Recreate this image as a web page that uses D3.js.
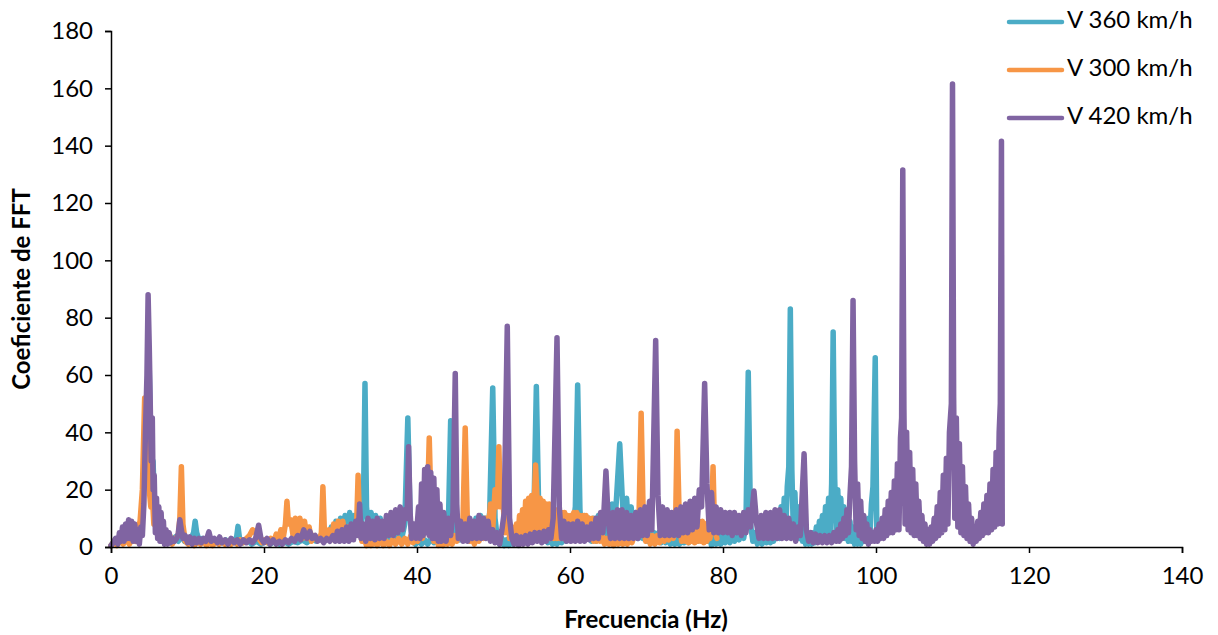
<!DOCTYPE html>
<html>
<head>
<meta charset="utf-8">
<script src="https://cdn.jsdelivr.net/npm/d3@7"></script>
<style>
  html, body { margin: 0; padding: 0; background: #fff; }
  svg { display: block; }
  text { font-family: Lato, "Open Sans", "Liberation Sans", sans-serif; fill: #000; }
</style>
</head>
<body>
<svg id="chart" width="1218" height="635"></svg>
<script>
// Spectrum samples as [frequency (Hz), FFT coefficient]
const v360 = [[0,0.5],[0.4,2],[0.8,1],[1.2,3],[1.6,1.5],[2.0,4],[2.4,2],[2.8,5],[3.2,2.5],[3.6,6],[3.9,8],[4.2,19],[4.5,40],[4.7,54],[4.85,35],[5.0,62],[5.15,40],[5.3,25],[5.5,30],[5.7,12],[5.9,8],[6.2,4],[6.5,6],[6.8,2.5],[7.1,3.5],[7.4,2.5],[7.7,3.5],[8.0,2.5],[8.4,3.5],[8.8,2],[9.2,4],[9.6,2],[10.0,3],[10.4,2.5],[10.8,5],[11.0,9],[11.2,5],[11.5,2.5],[12.0,3],[12.5,2],[13.0,3],[13.5,2],[14.0,2.5],[14.5,1.5],[15.0,2.5],[15.5,1.5],[16.0,2.5],[16.4,3],[16.6,7.2],[16.8,3],[17.2,1.5],[17.8,2.5],[18.4,1],[19.0,2],[19.6,1],[20.2,2],[20.8,1],[21.4,2],[22.0,1],[22.6,2],[23.2,1],[23.8,2],[24.4,1.5],[25.0,2.5],[25.6,1.5],[26.2,3],[26.8,2],[27.4,3.5],[27.8,2.5],[28.2,5],[28.5,3],[28.8,7],[29.1,4],[29.4,9],[29.7,5],[30.0,10],[30.3,5],[30.6,11],[30.9,6],[31.2,12],[31.5,6],[31.8,11],[32.1,6],[32.4,10],[32.7,7],[33.0,14],[33.2,57],[33.4,14],[33.7,6],[34.0,12],[34.3,5],[34.6,11],[34.9,4],[35.2,10],[35.5,3],[35.8,8],[36.1,3],[36.4,7],[36.7,2.5],[37.0,5],[37.3,2],[37.6,4],[38.0,3],[38.4,8],[38.8,45],[39.1,10],[39.4,2],[39.8,1],[40.2,2],[40.6,1],[41.0,2.5],[41.4,1],[41.8,3],[42.2,1.5],[42.6,3],[43.0,1.5],[43.4,4],[43.8,3],[44.1,8],[44.4,44],[44.7,9],[45.0,3],[45.3,6],[45.6,2.5],[45.9,7],[46.2,3],[46.5,8],[46.8,4],[47.1,9],[47.4,4],[47.7,10],[48.0,4],[48.3,11],[48.6,5],[48.9,10],[49.2,5],[49.5,12],[49.9,55.5],[50.2,10],[50.5,3],[50.8,1],[51.1,3],[51.4,0.5],[51.7,2.5],[52.0,0.5],[52.3,3],[52.6,1],[52.9,3],[53.2,1],[53.5,3.5],[53.8,1.5],[54.1,4],[54.4,2],[54.7,6],[55.0,4],[55.3,14],[55.6,56],[55.9,14],[56.2,4],[56.5,2],[56.8,4],[57.1,1.5],[57.4,3.5],[57.7,1],[58.0,3],[58.3,1],[58.6,3],[58.9,1.5],[59.2,4],[59.5,2],[59.8,5],[60.1,3],[60.4,8],[60.7,14],[61.0,56.5],[61.3,13],[61.6,3],[61.9,11],[62.2,3],[62.5,10],[62.8,2],[63.1,10],[63.4,2],[63.7,11],[64.0,3],[64.3,12],[64.6,3],[64.9,13],[65.2,4],[65.5,15],[65.8,5],[66.1,18],[66.5,36],[66.8,19],[67.1,5],[67.4,17],[67.7,4],[68.0,14],[68.3,4],[68.6,12],[68.9,3],[69.2,10],[69.5,3],[69.8,8],[70.1,2],[70.4,7],[70.7,2],[71.0,5],[71.3,2],[71.6,5],[71.9,1.5],[72.2,4],[72.5,1.5],[72.8,4],[73.1,1],[73.4,3.5],[73.7,1],[74.0,3],[74.3,1],[74.6,3],[74.9,1.5],[75.2,3.5],[75.5,1.5],[75.8,4],[76.1,2],[76.4,4],[76.7,2],[77.0,5],[77.3,3],[77.6,6],[77.9,2],[78.2,4],[78.5,0.5],[78.8,4],[79.1,1],[79.4,4.5],[79.7,1],[80.0,5],[80.3,1.5],[80.6,5],[80.9,1.5],[81.2,5],[81.5,2],[81.8,5.5],[82.1,2.5],[82.4,6],[82.7,3],[83.0,8],[83.3,61],[83.6,8],[83.9,2],[84.2,5],[84.5,1],[84.8,4],[85.1,1],[85.4,4],[85.7,1.5],[86.0,4],[86.2,1.5],[86.4,6],[86.6,2],[86.8,8],[87.0,3],[87.2,11],[87.4,3],[87.6,14],[87.8,4],[88.0,17],[88.2,5],[88.4,21],[88.6,28],[88.8,83],[89.0,27],[89.2,5],[89.4,19],[89.6,4],[89.8,14],[90.0,3],[90.2,10],[90.4,2],[90.6,7],[90.8,1],[91.0,5],[91.2,1],[91.4,4],[91.6,1],[91.8,5],[92.0,1.5],[92.2,7],[92.4,2],[92.6,9],[92.8,3],[93.0,11],[93.2,3],[93.4,14],[93.6,4],[93.8,17],[94.0,5],[94.2,22],[94.4,75],[94.6,24],[94.8,5],[95.0,20],[95.2,4],[95.4,17],[95.6,3],[95.8,14],[96.0,3],[96.2,12],[96.4,2],[96.6,9],[96.8,2],[97.0,7],[97.2,1],[97.4,5],[97.6,1],[97.8,4],[98.0,1],[98.2,5],[98.4,2],[98.6,7],[98.8,3],[99.0,10],[99.2,4],[99.4,15],[99.6,21],[99.9,66],[100.1,7]];

const v300 = [[0,0.5],[0.4,2],[0.8,0.5],[1.2,2.5],[1.6,1],[2.0,3],[2.4,1],[2.8,3],[3.2,2],[3.5,6],[3.8,9],[4.1,20],[4.4,52],[4.6,30],[4.8,40],[5.0,20],[5.2,14],[5.4,18],[5.6,8],[5.9,12],[6.2,4],[6.5,8],[6.8,2],[7.1,5],[7.4,1.5],[7.7,4],[8.0,1],[8.4,3],[8.8,4],[9.0,10],[9.2,28],[9.4,8],[9.7,2],[10.1,1],[10.5,2],[10.9,0.5],[11.3,2],[11.7,1],[12.1,2],[12.5,0.5],[12.9,2],[13.3,0.5],[13.7,2],[14.1,1],[14.5,2],[14.9,1],[15.3,2],[15.7,1],[16.1,2],[16.5,1],[16.9,2.5],[17.3,1.5],[17.7,3],[18.1,4],[18.5,6],[18.9,5],[19.3,3],[19.7,1.5],[20.1,2.5],[20.5,1.5],[20.9,3],[21.3,2],[21.6,4.5],[21.9,2.5],[22.2,6],[22.5,3],[22.8,8],[23.0,16],[23.2,8],[23.5,9.5],[23.8,4],[24.1,10],[24.4,4],[24.7,10],[25.0,3],[25.3,9],[25.6,3],[25.9,7],[26.2,2],[26.5,4],[26.9,2.5],[27.3,3],[27.5,5],[27.7,21],[27.9,5],[28.2,3],[28.5,6],[28.8,2.5],[29.1,8],[29.4,3],[29.7,9],[30.0,3],[30.3,9],[30.6,3],[30.9,7],[31.2,3],[31.5,5],[31.8,4],[32.1,7],[32.3,25],[32.5,7],[32.8,2],[33.1,3],[33.4,0.5],[33.7,2.5],[34.0,0.5],[34.4,2],[34.8,0.5],[35.2,2.5],[35.6,0.5],[36.0,2],[36.4,0.5],[36.8,2.5],[37.2,1],[37.6,3],[38.0,1],[38.4,3],[38.8,1],[39.2,4],[39.5,1.5],[39.8,5],[40.1,2],[40.4,6],[40.7,3],[41.0,7],[41.3,8],[41.6,38],[41.9,7],[42.2,2],[42.5,4],[42.8,0.5],[43.1,3],[43.4,0.5],[43.7,3],[44.0,1],[44.3,3.5],[44.6,1],[44.9,4],[45.2,2],[45.6,5],[46.0,8],[46.3,41.5],[46.6,7],[46.9,2],[47.2,3.5],[47.5,1],[47.8,4],[48.1,2],[48.4,6],[48.7,3],[49.0,10],[49.3,5],[49.6,15],[49.9,6],[50.2,20],[50.5,14],[50.7,35],[50.9,14],[51.2,18],[51.5,5],[51.8,12],[52.1,3],[52.4,7],[52.7,2],[53.0,8],[53.2,3],[53.4,11],[53.6,3],[53.8,13],[54.0,4],[54.2,16],[54.4,4],[54.6,17],[54.8,5],[55.0,18],[55.2,6],[55.5,28.6],[55.7,16],[55.9,5],[56.1,17],[56.3,4],[56.5,16],[56.7,4],[56.9,15],[57.1,3],[57.3,15],[57.5,3],[57.7,14],[57.9,3],[58.1,13],[58.3,3],[58.5,13],[58.7,3],[58.9,12],[59.1,3],[59.3,12],[59.5,3],[59.7,11],[59.9,3],[60.1,11],[60.3,3],[60.5,12],[60.7,4],[60.9,12],[61.1,4],[61.3,11],[61.5,3],[61.7,11],[61.9,3],[62.1,11],[62.3,3],[62.5,10],[62.7,3],[62.9,10],[63.1,2],[63.3,9],[63.5,2],[63.7,7],[63.9,2],[64.2,4],[64.5,1],[64.8,3],[65.1,1],[65.4,3],[65.7,0.5],[66.0,3],[66.3,1],[66.6,3.5],[66.9,1],[67.2,3],[67.5,1],[67.8,4],[68.1,1.5],[68.4,4],[68.7,5],[69.0,8],[69.3,46.7],[69.6,7],[69.9,2],[70.2,4.5],[70.5,1],[70.8,4],[71.1,1],[71.4,4],[71.7,1.5],[72.0,4.5],[72.3,2],[72.6,5],[72.9,2.5],[73.2,6],[73.5,3],[73.8,8],[74.0,40.4],[74.3,8],[74.6,2],[74.9,8],[75.1,2],[75.3,9],[75.5,1.5],[75.7,9],[75.9,2],[76.1,9.5],[76.3,1.5],[76.5,9],[76.7,2],[76.9,9],[77.1,2],[77.3,9],[77.5,1.5],[77.7,8],[77.9,2],[78.1,9],[78.3,3],[78.5,10],[78.7,28],[78.9,6],[79.2,3]];

const v420 = [[0,0.5],[0.3,1.5],[0.6,3],[0.9,1],[1.1,5],[1.3,2],[1.5,7],[1.7,2],[1.9,8],[2.1,3],[2.3,9.5],[2.5,3],[2.7,9],[2.9,2],[3.1,8],[3.3,2],[3.5,6],[3.7,1],[3.9,7],[4.1,4],[4.3,15],[4.5,40],[4.7,60],[4.85,88],[5.0,70],[5.1,55],[5.25,30],[5.4,45],[5.5,20],[5.65,25],[5.8,5],[5.95,17],[6.1,3],[6.25,14],[6.4,2],[6.55,12],[6.7,2],[6.85,9],[7.0,1],[7.2,6],[7.4,1],[7.6,5],[7.8,1.5],[8.0,3],[8.3,2],[8.6,3],[8.8,5],[9.0,9.5],[9.2,6],[9.4,3],[9.7,4],[10.0,1.5],[10.3,3.5],[10.6,1],[10.9,3],[11.2,1.5],[11.5,3],[11.8,1.5],[12.1,3],[12.4,2],[12.8,5.3],[13.1,2],[13.5,3],[13.9,1.5],[14.2,3.5],[14.5,1.5],[14.9,2.5],[15.3,1],[15.7,3],[16.1,1.5],[16.5,2.5],[16.9,1],[17.3,2.5],[17.7,1.5],[18.1,2.5],[18.5,1.5],[18.9,3],[19.3,7.6],[19.6,3],[20.0,1.5],[20.4,3],[20.8,1],[21.2,2.5],[21.6,1],[22.0,2],[22.4,1],[22.8,2.5],[23.2,1.5],[23.6,3],[24.0,2],[24.4,4],[24.8,2.5],[25.2,6],[25.6,3],[26.0,5.5],[26.3,3],[26.7,4],[27.0,2],[27.4,3],[27.8,1.5],[28.2,3],[28.6,2],[29.0,4],[29.3,2],[29.6,5.5],[29.9,2],[30.2,6],[30.5,2],[30.8,7],[31.1,2],[31.4,8],[31.7,2.5],[32.0,9],[32.3,4],[32.5,15],[32.7,3],[33.0,8],[33.3,2],[33.6,10],[33.9,3],[34.2,9],[34.5,2.5],[34.8,10],[35.1,3],[35.4,9],[35.7,3],[36.0,11],[36.3,4],[36.6,12],[36.9,4],[37.2,13],[37.5,5],[37.8,14],[38.1,6],[38.4,13],[38.7,10],[38.9,35],[39.1,12],[39.3,3],[39.6,8],[39.9,3],[40.2,14],[40.4,3],[40.6,22],[40.8,4],[41.0,27],[41.2,5],[41.4,28],[41.6,4],[41.8,26],[42.0,3],[42.2,24],[42.4,3],[42.6,20],[42.8,2],[43.0,15],[43.2,2],[43.5,12],[43.8,2],[44.1,10],[44.4,4],[44.7,12],[45.0,60.5],[45.2,15],[45.4,3],[45.7,9],[46.0,2],[46.3,8],[46.6,2],[46.9,10],[47.2,3],[47.5,9],[47.8,3],[48.1,11],[48.4,3],[48.7,10],[49.0,3],[49.3,9],[49.6,2],[49.9,6],[50.2,1.5],[50.5,5],[50.8,1],[51.1,6],[51.4,12],[51.8,77],[52.1,10],[52.4,3],[52.7,1],[53.0,4],[53.3,0.5],[53.6,3.5],[53.9,1],[54.2,4],[54.5,1],[54.8,4.5],[55.1,1.5],[55.4,5],[55.7,2],[56.0,5],[56.3,1.5],[56.6,5.5],[56.9,2],[57.2,6],[57.5,3],[57.8,10],[58.3,73],[58.6,14],[58.9,3],[59.2,9],[59.5,2],[59.8,8],[60.1,2],[60.4,8],[60.7,2],[61.0,9],[61.3,2],[61.6,8],[61.9,2],[62.2,7],[62.5,2.5],[62.8,8],[63.1,3],[63.4,10],[63.7,3],[64.0,12],[64.3,5],[64.7,26.5],[65.0,9],[65.3,3],[65.6,12],[65.9,3],[66.2,13],[66.5,3],[66.8,13],[67.1,3],[67.4,12],[67.7,3],[68.0,11],[68.3,3],[68.6,12],[68.9,3],[69.2,13],[69.5,4],[69.8,14],[70.1,4],[70.4,16],[70.7,6],[71.2,72],[71.5,18],[71.8,4],[72.1,14],[72.4,4],[72.7,13],[73.0,4],[73.3,12],[73.6,4],[73.9,13],[74.2,4],[74.5,14],[74.8,5],[75.1,15],[75.4,5],[75.7,16],[76.0,6],[76.3,17],[76.6,7],[76.9,20],[77.2,14],[77.6,57],[77.9,22],[78.2,6],[78.5,19],[78.8,5],[79.1,14],[79.4,5],[79.7,13],[80.0,5],[80.3,12],[80.6,5],[80.9,12],[81.2,4],[81.5,12],[81.8,5],[82.1,11],[82.4,4],[82.7,12],[83.0,5],[83.3,13],[83.6,7],[84.05,19.5],[84.4,8],[84.7,3],[85.0,11],[85.3,3],[85.6,12],[85.9,3],[86.2,12],[86.5,3],[86.8,13],[87.1,3],[87.4,13],[87.7,3],[88.0,11],[88.3,3],[88.6,10],[88.9,3],[89.2,8],[89.5,2],[89.8,7],[90.1,4],[90.6,32.5],[90.9,6],[91.2,2],[91.5,5],[91.8,1.5],[92.1,4.5],[92.4,1.5],[92.7,4],[93.0,1.5],[93.3,4],[93.6,1.5],[93.9,4],[94.2,1.5],[94.5,5],[94.8,2],[95.0,6],[95.2,2],[95.4,8],[95.6,3],[95.8,10],[96.0,4],[96.2,13],[96.4,5],[96.6,18],[96.8,28],[97.0,86],[97.2,30],[97.4,6],[97.6,22],[97.8,4],[98.0,16],[98.2,3],[98.4,11],[98.6,2],[98.8,8],[99.0,1],[99.2,6],[99.4,2],[99.6,5],[99.8,2],[100.0,6],[100.2,2],[100.4,8],[100.6,3],[100.8,10],[101.0,3],[101.2,13],[101.4,4],[101.6,16],[101.8,5],[102.0,19],[102.2,5],[102.4,23],[102.6,6],[102.8,29],[103.0,6],[103.2,38],[103.35,45],[103.5,131.5],[103.65,48],[103.8,8],[104.0,40],[104.2,6],[104.4,33],[104.6,5],[104.8,27],[105.0,4],[105.2,22],[105.4,4],[105.6,16],[105.8,3],[106.0,11],[106.2,2],[106.4,8],[106.6,1],[106.8,6],[107.0,1],[107.2,7],[107.4,2],[107.6,10],[107.8,3],[108.0,14],[108.2,4],[108.4,19],[108.6,5],[108.8,25],[109.0,6],[109.2,31],[109.4,8],[109.6,40],[109.85,50],[110.0,161.5],[110.15,52],[110.3,10],[110.5,45],[110.7,7],[110.9,36],[111.1,5],[111.3,28],[111.5,4],[111.7,21],[111.9,3],[112.1,15],[112.3,2],[112.5,10],[112.7,1],[112.9,7],[113.1,2],[113.3,9],[113.5,3],[113.7,12],[113.9,4],[114.1,15],[114.3,5],[114.5,18],[114.7,5],[114.9,22],[115.1,6],[115.3,27],[115.5,7],[115.7,33],[115.9,8],[116.1,40],[116.25,50],[116.4,141.5],[116.5,8]];

const seriesNames = ["V 360 km/h", "V 300 km/h", "V 420 km/h"];
const seriesColors = ["#4BACC6", "#F79646", "#8064A2"];
const seriesData = [v360, v300, v420];

const xTicks = [0, 20, 40, 60, 80, 100, 120, 140];
const yTicks = [0, 20, 40, 60, 80, 100, 120, 140, 160, 180];
const xTitle = "Frecuencia (Hz)";
const yTitle = "Coeficiente de FFT";

const svg = d3.select("#chart");
const plot = { left: 111, right: 1182, top: 31, bottom: 547 };

const x = d3.scaleLinear().domain([0, 140]).range([plot.left, plot.right]);
const y = d3.scaleLinear().domain([0, 180]).range([plot.bottom, plot.top]);

// Series lines: first series underneath, last on top
const line = d3.line().x(d => x(d[0])).y(d => y(d[1]));
svg.append("g").selectAll("path")
  .data(seriesData)
  .join("path")
  .attr("d", line)
  .attr("fill", "none")
  .attr("stroke", (d, i) => seriesColors[i])
  .attr("stroke-width", 5.5)
  .attr("stroke-linejoin", "round")
  .attr("stroke-linecap", "round");

// Axes
const xAxis = svg.append("g")
  .attr("transform", `translate(0,${plot.bottom})`)
  .call(d3.axisBottom(x).tickValues(xTicks).tickSize(6).tickSizeOuter(6).tickPadding(14));
const yAxis = svg.append("g")
  .attr("transform", `translate(${plot.left},0)`)
  .call(d3.axisLeft(y).tickValues(yTicks).tickSize(6).tickSizeOuter(6).tickPadding(12));

[xAxis, yAxis].forEach(g => {
  g.select(".domain").attr("stroke", "#000").attr("stroke-width", 1.5);
  g.selectAll(".tick line").attr("stroke", "#000").attr("stroke-width", 1.5);
  g.selectAll(".tick text")
    .attr("font-family", "Lato, 'Open Sans', sans-serif")
    .attr("font-size", 24)
    .attr("fill", "#000");
});

// Axis titles
svg.append("text")
  .attr("x", 646)
  .attr("y", 622)
  .attr("text-anchor", "middle")
  .attr("dominant-baseline", "middle")
  .attr("font-size", 24)
  .attr("font-weight", "bold")
  .text(xTitle);

svg.append("text")
  .attr("transform", `translate(24,${(plot.top + plot.bottom) / 2}) rotate(-90)`)
  .attr("text-anchor", "middle")
  .attr("dominant-baseline", "middle")
  .attr("font-size", 24)
  .attr("font-weight", "bold")
  .text(yTitle);

// Legend
const legend = svg.append("g").selectAll("g")
  .data(seriesNames)
  .join("g")
  .attr("transform", (d, i) => `translate(1009,${22 + i * 48})`);
legend.append("line")
  .attr("x1", 0).attr("x2", 53)
  .attr("stroke", (d, i) => seriesColors[i])
  .attr("stroke-width", 4.5)
  .attr("stroke-linecap", "round");
legend.append("text")
  .attr("x", 58)
  .attr("dominant-baseline", "middle")
  .attr("font-size", 24)
  .text(d => d);
</script>
</body>
</html>
